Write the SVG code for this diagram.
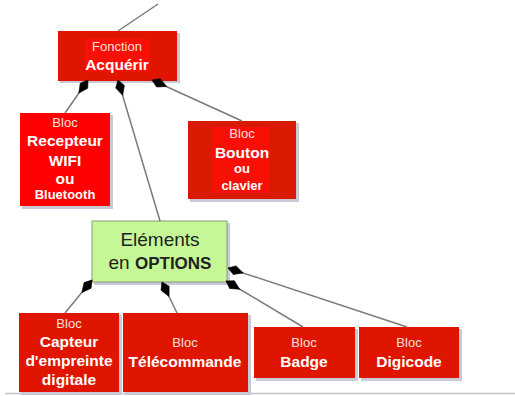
<svg xmlns="http://www.w3.org/2000/svg" width="515" height="396" viewBox="0 0 515 396">
  <defs>
    <!-- aggregation diamond, pointing along +x from its origin -->
    <path id="dm" d="M0,0 L7,-4.5 L16,0 L7,4.5 Z" fill="#000" stroke="#000" stroke-width="0.6"/>
  </defs>
  <style>
    .shadow { fill: #c9cad8; }
    .red { fill: #e01500; }
    .bright { fill: #ff0000; }
    .inner { fill: #f80f05; }
    .green { fill: #c6f796; stroke: #8a9a7a; stroke-width: 1; }
    .link { fill: none; stroke: #7a7a7a; stroke-width: 1.5; }
    text { font-family: "Liberation Sans", Arial, sans-serif; text-anchor: middle; fill: #fff; }
    .s { font-size: 13px; fill: #fbe0dc; }
    .b { font-size: 15.5px; font-weight: bold; }
    .m { font-size: 13px; font-weight: bold; }
    .dk { fill: #222; font-size: 19px; }
  </style>

  <!-- baseline rule -->
  <line x1="5" y1="393.5" x2="515" y2="393.5" stroke="#c4c4c8" stroke-width="1.5"/>

  <g id="acquerir">
    <rect class="shadow" x="60" y="33" width="120" height="50"/>
    <rect class="red" x="58" y="31" width="119" height="50"/>
    <rect class="inner" x="85" y="39" width="65" height="33"/>
    <text class="s" x="117" y="51">Fonction</text>
    <text class="b" x="117" y="70" font-size="15">Acquérir</text>
  </g>

  <g id="recepteur">
    <rect class="shadow" x="22" y="115" width="91" height="94"/>
    <rect class="bright" x="20" y="113" width="90" height="93"/>
    <text class="s" x="65" y="127">Bloc</text>
    <text class="b" x="65" y="146">Recepteur</text>
    <text class="b" x="65" y="166">WIFI</text>
    <text class="b" x="65" y="184">ou</text>
    <text class="m" x="65" y="199">Bluetooth</text>
  </g>

  <g id="bouton">
    <rect class="shadow" x="190" y="123" width="109" height="79"/>
    <rect x="188" y="121" width="108" height="78" fill="#d81a00"/>
    <rect class="inner" x="212" y="127" width="57" height="66"/>
    <text class="s" x="242" y="138">Bloc</text>
    <text class="b" x="242" y="158" font-size="16">Bouton</text>
    <text class="m" x="242" y="173">ou</text>
    <text class="m" x="242" y="190">clavier</text>
  </g>

  <g id="elements">
    <rect class="shadow" x="94" y="223" width="136" height="62"/>
    <rect class="green" x="92" y="221" width="135" height="61"/>
    <text class="dk" x="160" y="246">Eléments</text>
    <text class="dk" x="160" y="269">en <tspan font-weight="bold" font-size="17">OPTIONS</tspan></text>
  </g>

  <g id="capteur">
    <rect class="shadow" x="21" y="315" width="101" height="80"/>
    <rect class="red" x="19" y="313" width="100" height="79"/>
    <text class="s" x="69" y="328">Bloc</text>
    <text class="b" x="69" y="347">Capteur</text>
    <text class="b" x="69" y="366">d'empreinte</text>
    <text class="b" x="69" y="385">digitale</text>
  </g>

  <g id="telecommande">
    <rect class="shadow" x="125" y="315" width="126" height="80"/>
    <rect class="red" x="123" y="313" width="125" height="79"/>
    <text class="s" x="185" y="347">Bloc</text>
    <text class="b" x="185" y="367">Télécommande</text>
  </g>

  <g id="badge">
    <rect class="shadow" x="256" y="329" width="102" height="52"/>
    <rect class="red" x="254" y="327" width="101" height="51"/>
    <text class="s" x="304" y="347">Bloc</text>
    <text class="b" x="304" y="367" font-size="16">Badge</text>
  </g>

  <g id="digicode">
    <rect class="shadow" x="361" y="329" width="101" height="52"/>
    <rect class="red" x="359" y="327" width="100" height="51"/>
    <text class="s" x="409" y="347">Bloc</text>
    <text class="b" x="409" y="367" font-size="16">Digicode</text>
  </g>

  <g id="connectors">
    <line class="link" x1="118" y1="31" x2="158" y2="4"/>
    <line class="link" x1="88" y1="80" x2="65" y2="113"/>
    <line class="link" x1="118" y1="80" x2="160" y2="221"/>
    <line class="link" x1="152" y1="80" x2="242" y2="121"/>
    <line class="link" x1="92" y1="280" x2="65" y2="313"/>
    <line class="link" x1="162" y1="282" x2="177" y2="313"/>
    <line class="link" x1="226" y1="281" x2="303" y2="327"/>
    <line class="link" x1="228" y1="268" x2="407" y2="327"/>
    <use href="#dm" transform="translate(88,80) rotate(125)"/>
    <use href="#dm" transform="translate(118,80) rotate(73)"/>
    <use href="#dm" transform="translate(152,80) rotate(24)"/>
    <use href="#dm" transform="translate(92,280) rotate(129)"/>
    <use href="#dm" transform="translate(162,282) rotate(64)"/>
    <use href="#dm" transform="translate(226,281) rotate(31)"/>
    <use href="#dm" transform="translate(228,268) rotate(18)"/>
  </g>
</svg>
